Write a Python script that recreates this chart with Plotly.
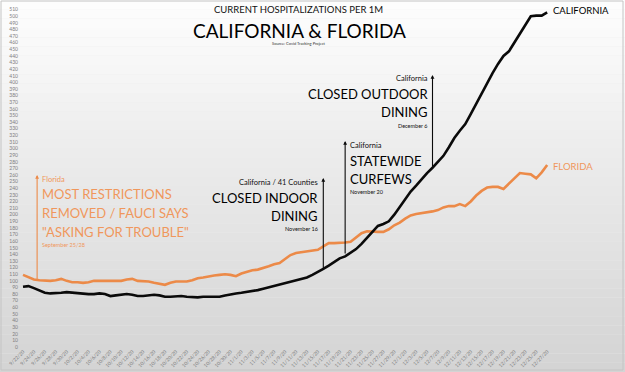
import plotly.graph_objects as go
import pandas as pd

# ---------------- data ----------------
start_date = "2020-09-22"
n_days = 97
california = [91, 92, 89, 85, 82, 81, 81, 82, 83, 82,
              81, 81, 80, 80, 81, 80, 77, 78, 79, 80,
              79, 77, 77, 78, 79, 78, 76, 76, 77, 77,
              76, 75, 75, 76, 76, 76, 76, 78, 80, 81,
              82, 83, 85, 86, 88, 90, 92, 94, 97, 99,
              101, 103, 105, 109, 113, 118, 123, 129, 134, 137,
              142, 148, 156, 165, 175, 183, 186, 190, 200, 212,
              225, 235, 244, 254, 263, 271, 280, 289, 302, 316,
              327, 337, 352, 368, 384, 399, 414, 428, 440, 447,
              460, 475, 488, 500, 501, 501, 506]
florida = [109, 106, 102, 101, 100, 100, 101, 103, 100, 98,
           98, 97, 98, 100, 100, 100, 99, 99, 100, 102,
           103, 100, 100, 99, 97, 95, 94, 97, 99, 99,
           99, 101, 104, 105, 107, 108, 109, 110, 109, 107,
           111, 114, 116, 117, 119, 122, 125, 127, 133, 139,
           142, 143, 144, 146, 147, 152, 157, 157, 157, 158,
           159, 166, 172, 175, 174, 174, 174, 178, 184, 188,
           194, 199, 201, 202, 203, 205, 207, 211, 213, 213,
           216, 213, 220, 229, 236, 241, 242, 242, 239, 247,
           256, 263, 262, 261, 255, 264, 275]
y_ticks = list(range(0, 520, 10))
tick_step_days = 2

# event annotations: date, small heading, big lines, date text
fl_event_date = "2020-09-24 14:00"
fl_event_small = "Florida"
fl_event_big = ["MOST RESTRICTIONS", "REMOVED / FAUCI SAYS", "\"ASKING FOR TROUBLE\""]
fl_event_note = "September 25/28"
ca_events = [
    ("2020-11-16", "California / 41 Counties", ["CLOSED INDOOR", "DINING"], "November 16"),
    ("2020-11-20", "California", ["STATEWIDE", "CURFEWS"], "November 20"),
    ("2020-12-06", "California", ["CLOSED OUTDOOR", "DINING"], "December 6"),
]

# ---------------- layout geometry ----------------
W, H = 625, 372
ML, MR, MT, MB = 22, 8, 7, 25
PW, PH = W - ML - MR, H - MT - MB
Y_MAX = 514
PX_PER_DAY = 5.46

dates = pd.date_range(start_date, periods=n_days, freq="D")
x0 = dates[0] - pd.Timedelta(days=1 / PX_PER_DAY)
x1 = x0 + pd.Timedelta(days=PW / PX_PER_DAY)

def pv(py):
    """pixel row -> data value"""
    return (MT + PH - py) * Y_MAX / PH

def ppy(py):
    return (MT + PH - py) / PH

def ppx(px):
    return (px - ML) / PW

ORANGE = "#EC8A48"
ORANGE_TXT = "#F0975C"
BLACK = "#0a0a0a"
FONT = "Lato, 'Open Sans', sans-serif"

fig = go.Figure()
fig.add_trace(go.Scatter(x=dates, y=florida, mode="lines", name="Florida",
                         line=dict(color=ORANGE, width=2.6), hoverinfo="skip"))
fig.add_trace(go.Scatter(x=dates, y=california, mode="lines", name="California",
                         line=dict(color=BLACK, width=2.6), hoverinfo="skip"))

# background gradient
shapes = []
nb = 40
top_c, bot_c = 253, 212
y_top, y_bot = ppy(0), ppy(H)
for i in range(nb):
    c = round(top_c + (bot_c - top_c) * i / (nb - 1))
    ya = y_top + (y_bot - y_top) * i / nb
    yb = y_top + (y_bot - y_top) * (i + 1) / nb
    shapes.append(dict(type="rect", xref="paper", yref="paper", x0=ppx(0), x1=ppx(W),
                       y0=yb, y1=ya, fillcolor=f"rgb({c},{c},{c})", line=dict(width=0),
                       layer="below"))
shapes.append(dict(type="rect", xref="paper", yref="paper", x0=ppx(1), x1=ppx(W - 2),
                   y0=ppy(H - 2), y1=ppy(1), line=dict(color="#c4c4c4", width=1),
                   fillcolor="rgba(0,0,0,0)", layer="below"))

anns = []
def txt(x, y, text, size, color, xanchor="center", xshift=0, xref="x", yref="y", family=FONT):
    anns.append(dict(x=x, y=y, xref=xref, yref=yref, text=text, showarrow=False,
                     xanchor=xanchor, yanchor="middle", xshift=xshift,
                     font=dict(size=size, color=color, family=family)))

def arrow(xd, ytop, ybot, color):
    anns.append(dict(x=xd, y=ytop, ax=xd, ay=ybot, xref="x", yref="y", axref="x", ayref="y",
                     text="", showarrow=True, arrowhead=2, arrowsize=0.7, arrowwidth=1.1,
                     arrowcolor=color, standoff=0))

# titles
txt(ppx(298), ppy(10), "CURRENT HOSPITALIZATIONS PER 1M", 9.5, "#111", xref="paper", yref="paper")
txt(ppx(299), ppy(31), "CALIFORNIA &amp; FLORIDA", 19, "#000", xref="paper", yref="paper")
txt(ppx(299), ppy(44), "Source: Covid Tracking Project", 4, "#333", xref="paper", yref="paper")

BIG = 13
# Florida event
arrow(fl_event_date, pv(175), pv(281), ORANGE)
txt(fl_event_date, pv(179), fl_event_small, 7.5, ORANGE_TXT, "left", 3)
for i, line in enumerate(fl_event_big):
    txt(fl_event_date, pv(193.5 + 19.3 * i), line, BIG, ORANGE_TXT, "left", 3)
txt(fl_event_date, pv(245), fl_event_note, 5.5, ORANGE_TXT, "left", 3)

# California events
ev_geom = [
    # top px, bottom px, small px, big px list, note px, side
    (178, 270, 182, [197.5, 216], 229, "right"),
    (141, 255, 145, [161, 178.5], 192, "left"),
    (75, 168, 78, [94, 112], 126, "right"),
]
for (d, small, big, note), (ptop, pbot, ps, pbig, pn, side) in zip(ca_events, ev_geom):
    arrow(d, pv(ptop), pv(pbot), BLACK)
    sh = -3 if side == "right" else 3
    txt(d, pv(ps), small, 7.5, "#111", side, sh)
    for line, pb in zip(big, pbig):
        txt(d, pv(pb), line, BIG, "#000", side, sh)
    txt(d, pv(pn), note, 5.5, "#111", side, sh)

# end labels
txt(dates[-1], california[-1] + 2, "CALIFORNIA", 9.5, "#000", "left", 4)
txt(dates[-1], florida[-1] - 2, "FLORIDA", 9.5, ORANGE_TXT, "left", 4)

tickvals = dates[::tick_step_days]
ticktext = [f"{d.month}/{d.day}/{d.strftime('%y')}" for d in tickvals]

fig.update_layout(
    width=W, height=H,
    margin=dict(l=ML, r=MR, t=MT, b=MB, pad=0, autoexpand=False),
    paper_bgcolor="#ececec", plot_bgcolor="rgba(0,0,0,0)",
    showlegend=False,
    shapes=shapes, annotations=anns,
    font=dict(family=FONT),
    xaxis=dict(type="date", range=[x0, x1], tickvals=tickvals, ticktext=ticktext,
               tickangle=-45, tickfont=dict(size=5, color="#808080"), automargin=False,
               showgrid=False, zeroline=False, showline=False, ticks=""),
    yaxis=dict(range=[0, Y_MAX], tickvals=y_ticks, tickfont=dict(size=5, color="#808080"),
               showgrid=False, zeroline=False, showline=False, ticks="", automargin=False,
               ticklabelstandoff=3),
)

fig.write_html("out.html", config={"displayModeBar": False},
               post_script="document.body.style.margin='0';document.body.style.overflow='hidden';")
